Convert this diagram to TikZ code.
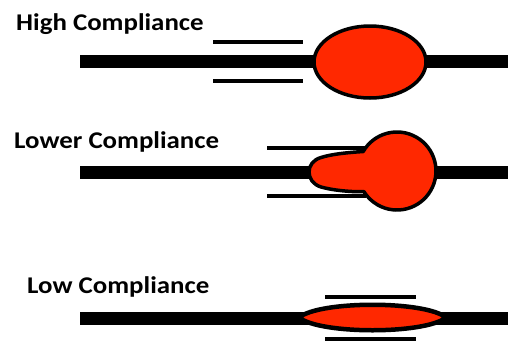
\documentclass[tikz,border=0pt]{standalone}
\usepackage{fontspec}
\setmainfont{Carlito}
\definecolor{bloodred}{RGB}{255,40,0}
\begin{document}
\begin{tikzpicture}[x=1pt,y=-1pt,
  label/.style={anchor=base west,inner sep=0pt,xscale=1.12,font=\bfseries\fontsize{24}{28}\selectfont},
  vessel/.style={line width=13pt},
  wall/.style={line width=4pt},
  bulge/.style={fill=bloodred,draw=black,line width=3.5pt,line join=round}]
\useasboundingbox (0,0) rectangle (508,341);

% High compliance
\node[label] (hightxt) at (16,30) {High Compliance};
\draw[vessel] (80,61.5) -- (508,61.5);
\draw[wall] (213,42) -- (303,42);
\draw[wall] (213,81) -- (303,81);
\draw[bulge] (370,62) ellipse [x radius=56, y radius=36];

% Lower compliance
\node[label] (lowertxt) at (14,148) {Lower Compliance};
\draw[vessel] (80,172.5) -- (508,172.5);
\draw[wall] (267,148) -- (366,148);
\draw[wall] (267,196) -- (366,196);
\draw[bulge] (363.2,151.5) arc [start angle=210, end angle=508, radius=39]
  .. controls (348,192) and (332,190) .. (321,187)
  .. controls (305,182) and (305,162) .. (321,157.5)
  .. controls (332,154) and (348,152.5) .. (363.2,151.5) -- cycle;

% Low compliance
\node[label] (lowtxt) at (27,293) {Low Compliance};
\draw[vessel] (80,318.5) -- (508,318.5);
\draw[wall] (325,297) -- (416,297);
\draw[wall] (325,339) -- (416,339);
\draw[bulge,line width=4.5pt,line join=miter] (299,317.5) .. controls (320,300.5) and (425,300.5) .. (446,317.5)
  .. controls (425,334.5) and (320,334.5) .. (299,317.5) -- cycle;
\end{tikzpicture}
\end{document}
